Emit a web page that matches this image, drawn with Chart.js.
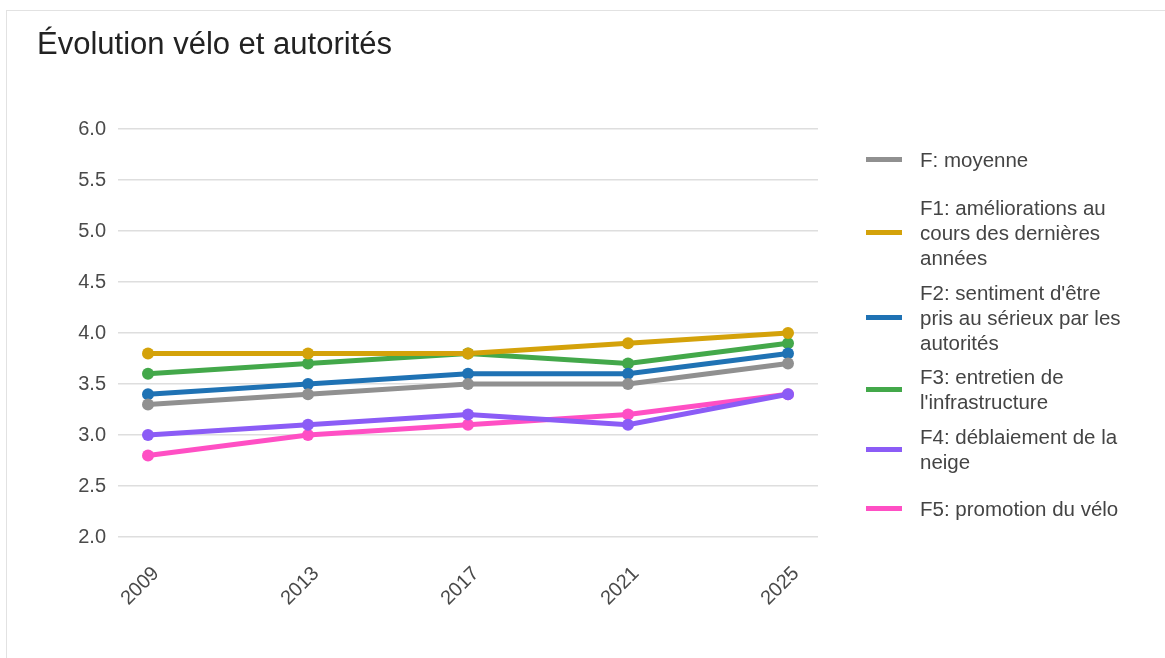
<!DOCTYPE html>
<html>
<head>
<meta charset="utf-8">
<script src="https://cdn.jsdelivr.net/npm/chart.js@4.4.1/dist/chart.umd.min.js"></script>
<style>
  body { margin: 0; background: #fff; font-family: "Liberation Sans", Arial, sans-serif; }
  #frame { position: absolute; left: 6px; top: 10px; width: 1200px; height: 700px; border: 1px solid #e2e2e2; }
  #wrap { position: absolute; left: 0; top: 0; width: 1165px; height: 658px; overflow: hidden; }
  #title { position: absolute; left: 37px; top: 26px; font-size: 31px; line-height: 36px; color: #222; }
  #legend { position: absolute; left: 0; top: 0; }
  .item { position: absolute; left: 866px; width: 280px; display: flex; align-items: center; }
  .swatch { width: 36px; height: 5px; flex: none; }
  .text { margin-left: 18px; width: 210px; font-size: 20.5px; line-height: 25px; color: #444; }
</style>
</head>
<body>
<div id="frame"></div>
<div id="wrap">
  <canvas id="chart" width="1165" height="658"></canvas>
  <div id="title">Évolution vélo et autorités</div>
  <div id="legend"></div>
</div>
<script>
// data
const years = [2009, 2013, 2017, 2021, 2025];
const seriesNames = [
  'F: moyenne',
  'F1: améliorations au cours des dernières années',
  "F2: sentiment d'être pris au sérieux par les autorités",
  "F3: entretien de l'infrastructure",
  'F4: déblaiement de la neige',
  'F5: promotion du vélo'
];
const moyenne = [3.3, 3.4, 3.5, 3.5, 3.7];
const f1 = [3.8, 3.8, 3.8, 3.9, 4.0];
const f2 = [3.4, 3.5, 3.6, 3.6, 3.8];
const f3 = [3.6, 3.7, 3.8, 3.7, 3.9];
const f4 = [3.0, 3.1, 3.2, 3.1, 3.4];
const f5 = [2.8, 3.0, 3.1, 3.2, 3.4];
const yTicks = [2.0, 2.5, 3.0, 3.5, 4.0, 4.5, 5.0, 5.5, 6.0];

const colors = ['#909090', '#d4a20a', '#1f72b4', '#43a84a', '#8b5cf6', '#ff4fc4'];
const allSeries = [moyenne, f1, f2, f3, f4, f5];
const legendTops = [147, 195, 280, 364, 424, 496];

const datasets = allSeries.map((vals, i) => ({
  label: seriesNames[i],
  data: vals.map((v, j) => ({ x: years[j], y: v })),
  borderColor: colors[i],
  backgroundColor: colors[i],
  borderWidth: 5,
  pointRadius: 6,
  pointBorderWidth: 0,
  pointBackgroundColor: colors[i],
  tension: 0
}));

const ctx = document.getElementById('chart').getContext('2d');
new Chart(ctx, {
  type: 'line',
  data: { datasets: datasets },
  options: {
    responsive: false,
    animation: false,
    layout: { padding: { top: 129, right: 347, left: 0, bottom: 0 } },
    plugins: {
      legend: { display: false },
      title: { display: false },
      tooltip: { enabled: false }
    },
    scales: {
      x: {
        type: 'linear',
        min: 2008.25,
        max: 2025.75,
        afterBuildTicks: (scale) => { scale.ticks = years.map(v => ({ value: v })); },
        afterFit: (scale) => { scale.height = 121; },
        grid: { display: false, drawTicks: false },
        border: { display: false },
        ticks: {
          minRotation: 45,
          maxRotation: 45,
          padding: 25,
          labelOffset: 8,
          color: '#4a4a4a',
          font: { family: '"Liberation Sans", Arial, sans-serif', size: 20 },
          callback: (v) => String(v)
        }
      },
      y: {
        min: 2,
        max: 6,
        afterBuildTicks: (scale) => { scale.ticks = yTicks.map(v => ({ value: v })); },
        afterFit: (scale) => { scale.width = 118; },
        grid: { color: '#dedede', lineWidth: 1.5, drawTicks: false },
        border: { display: false },
        ticks: {
          padding: 12,
          color: '#4a4a4a',
          font: { family: '"Liberation Sans", Arial, sans-serif', size: 20 },
          callback: (v) => v.toFixed(1)
        }
      }
    }
  }
});

// legend
const legend = document.getElementById('legend');
seriesNames.forEach((name, i) => {
  const item = document.createElement('div');
  item.className = 'item';
  item.style.top = legendTops[i] + 'px';
  const sw = document.createElement('div');
  sw.className = 'swatch';
  sw.style.background = colors[i];
  const tx = document.createElement('div');
  tx.className = 'text';
  tx.textContent = name;
  item.appendChild(sw);
  item.appendChild(tx);
  legend.appendChild(item);
});
</script>
</body>
</html>
